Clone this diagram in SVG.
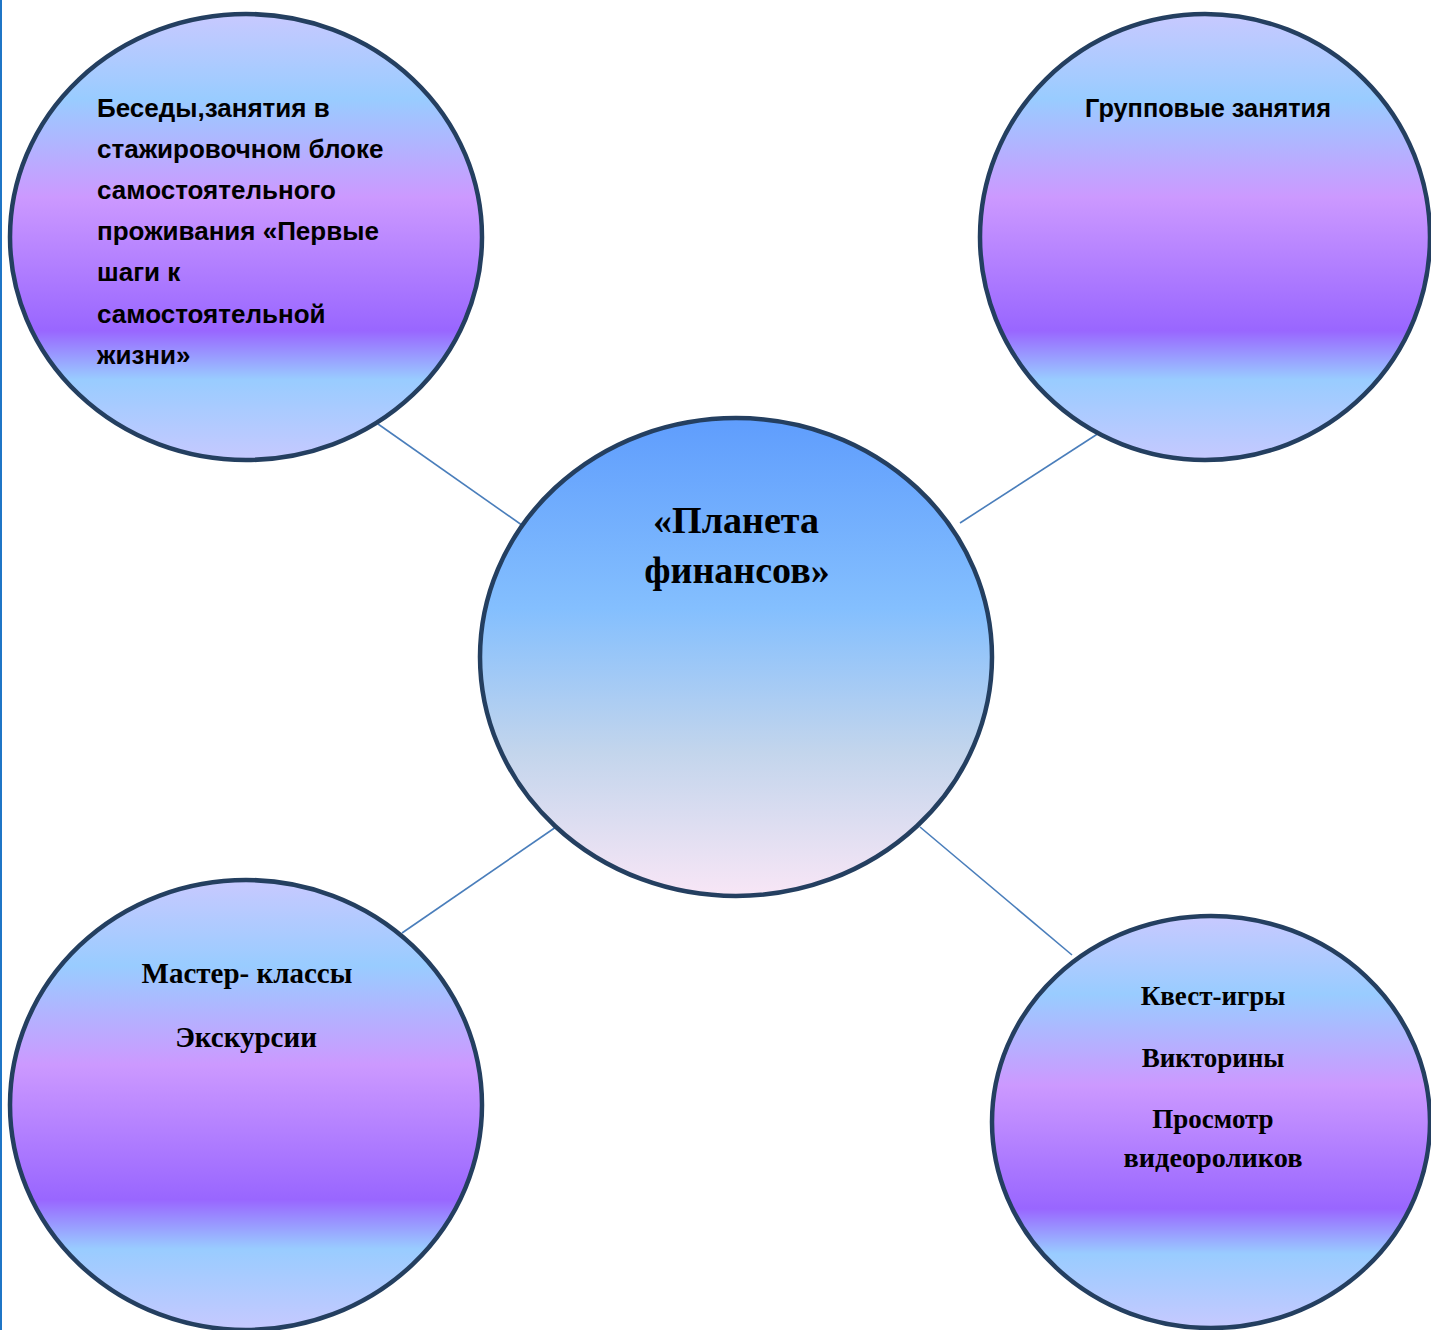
<svg xmlns="http://www.w3.org/2000/svg" width="1431" height="1330" viewBox="0 0 1431 1330">
<defs>
<linearGradient id="gOuter" x1="0" y1="0" x2="0" y2="1">
<stop offset="0" stop-color="#C8C9FF"/>
<stop offset="0.19" stop-color="#99CCFF"/>
<stop offset="0.41" stop-color="#CC99FF"/>
<stop offset="0.71" stop-color="#9966FF"/>
<stop offset="0.82" stop-color="#99CCFF"/>
<stop offset="1" stop-color="#C6C9FF"/>
</linearGradient>
<linearGradient id="gCenter" x1="0" y1="0" x2="0" y2="1">
<stop offset="0" stop-color="#5F9DFD"/>
<stop offset="0.4" stop-color="#84BFFE"/>
<stop offset="0.7" stop-color="#C3D5EC"/>
<stop offset="1" stop-color="#F8E6F6"/>
</linearGradient>
<style>
.node { stroke: #243F60; stroke-width: 4.5; }
.outer { fill: url(#gOuter); }
.center { fill: url(#gCenter); }
.conn { stroke: #4A7EBB; stroke-width: 1.6; fill: none; }
.sans { font-family: "Liberation Sans", Arial, sans-serif; font-weight: bold; fill: #000; }
.serif { font-family: "Liberation Serif", "Times New Roman", serif; font-weight: bold; fill: #000; text-anchor: middle; }
</style>
</defs>
<rect x="0" y="0" width="1431" height="1330" fill="#FFFFFF"/>
<line x1="1" y1="0" x2="1" y2="1330" stroke="#1F75C6" stroke-width="2"/>
<g id="connectors">
<line class="conn" x1="378" y1="424" x2="526" y2="528"/>
<line class="conn" x1="1099" y1="433" x2="960" y2="523"/>
<line class="conn" x1="402" y1="933" x2="556" y2="827"/>
<line class="conn" x1="920" y1="827" x2="1072" y2="955"/>
</g>
<g id="node-tl">
<ellipse class="node outer" cx="246" cy="237" rx="236" ry="223"/>
<text class="sans" font-size="26">
<tspan x="97" y="117">Беседы,занятия в</tspan>
<tspan x="97" y="158">стажировочном блоке</tspan>
<tspan x="97" y="199">самостоятельного</tspan>
<tspan x="97" y="240">проживания «Первые</tspan>
<tspan x="97" y="281">шаги к</tspan>
<tspan x="97" y="323">самостоятельной</tspan>
<tspan x="97" y="364">жизни»</tspan>
</text>
</g>
<g id="node-tr">
<ellipse class="node outer" cx="1205" cy="237" rx="225" ry="223"/>
<text class="sans" font-size="25.3" x="1208" y="117" text-anchor="middle">Групповые занятия</text>
</g>
<g id="node-center">
<ellipse class="node center" cx="736" cy="657" rx="256" ry="239"/>
<text class="serif" font-size="38"><tspan x="736" y="533">«Планета</tspan><tspan x="737" y="583">финансов»</tspan></text>
</g>
<g id="node-bl">
<ellipse class="node outer" cx="246" cy="1105" rx="236" ry="225"/>
<text class="serif" font-size="29"><tspan x="247" y="983">Мастер- классы</tspan><tspan x="246" y="1047">Экскурсии</tspan></text>
</g>
<g id="node-br">
<ellipse class="node outer" cx="1211" cy="1122" rx="219" ry="206"/>
<text class="serif" font-size="27"><tspan x="1213" y="1005">Квест-игры</tspan><tspan x="1213" y="1067">Викторины</tspan><tspan x="1213" y="1128">Просмотр</tspan><tspan x="1213" y="1167" textLength="179" lengthAdjust="spacingAndGlyphs">видеороликов</tspan></text>
</g>
</svg>
